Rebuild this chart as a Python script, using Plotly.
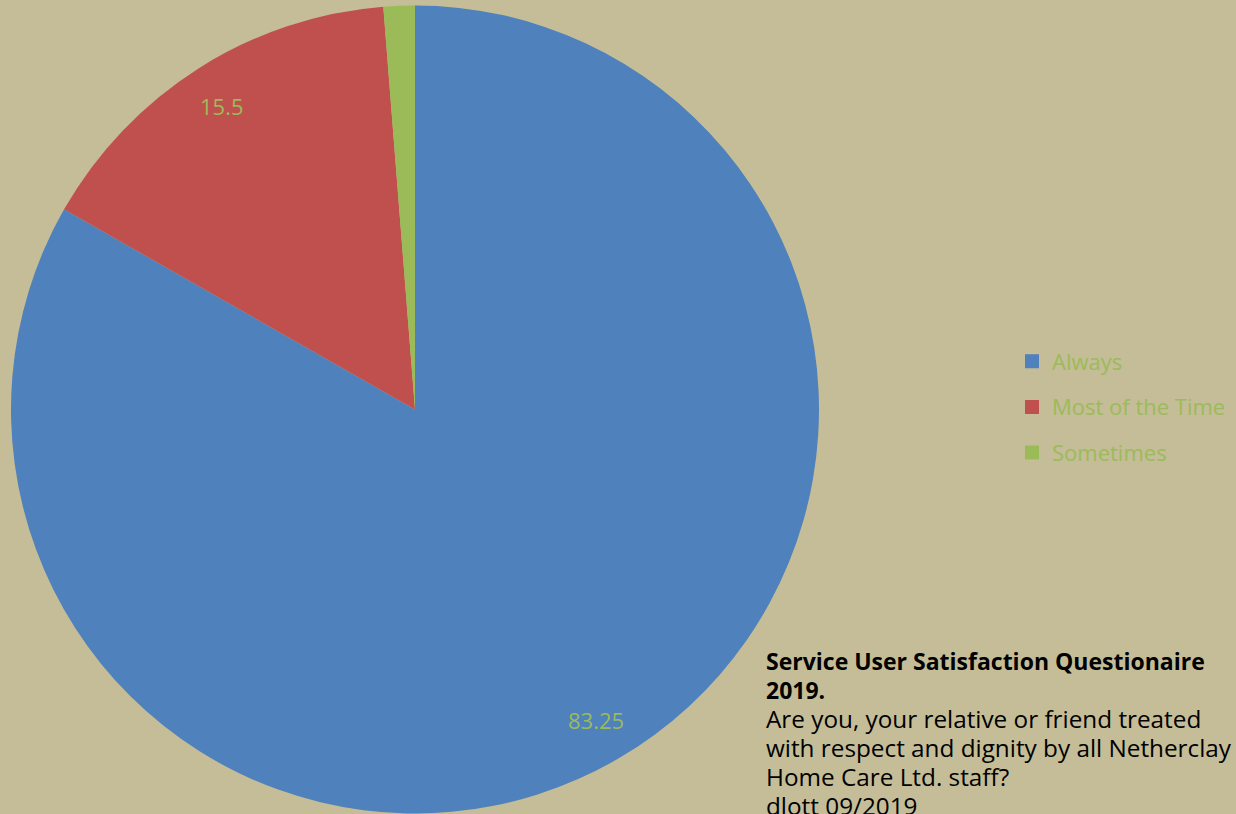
import math
import plotly.graph_objects as go

categories = ["Always", "Most of the Time", "Sometimes"]
values = [83.25, 15.5, 1.25]
colors = ["#4F81BD", "#C0504D", "#9BBB59"]
shown_labels = [True, True, False]
title_bold_lines = ["Service User Satisfaction Questionaire", "2019."]
title_lines = ["Are you, your relative or friend treated",
               "with respect and dignity by all Netherclay",
               "Home Care Ltd. staff?",
               "dlott 09/2019"]

W, H = 1236, 814
cx, cy, r = 415, 409.5, 404
FONT = "Open Sans"

fig = go.Figure()
fig.add_trace(go.Pie(
    labels=categories, values=values, sort=False, direction="clockwise",
    rotation=0, marker=dict(colors=colors, line=dict(width=0)),
    textinfo="none", hoverinfo="label+value", showlegend=False,
    domain=dict(x=[(cx - r) / W, (cx + r) / W], y=[1 - (cy + r) / H, 1 - (cy - r) / H]),
))

# data labels placed along each slice's mid-angle
total = sum(values)
cum = 0
for cat, v, show in zip(categories, values, shown_labels):
    mid = (cum + v / 2) / total * 2 * math.pi
    cum += v
    if not show:
        continue
    px = cx + 0.89 * r * math.sin(mid)
    py = cy - 0.89 * r * math.cos(mid)
    fig.add_annotation(x=px / W, y=1 - py / H, xref="paper", yref="paper",
                       xanchor="center", yanchor="middle",
                       text=f"{v:g}", showarrow=False,
                       font=dict(size=22, color="#9BBB59", family=FONT))

# legend entries
for i, (cat, col) in enumerate(zip(categories, colors)):
    fig.add_trace(go.Scatter(x=[None], y=[None], mode="markers", name=cat,
                             legendgroup=f"g{i}",
                             marker=dict(symbol="square", size=14, color=col)))

fig.update_xaxes(visible=False)
fig.update_yaxes(visible=False)

# text box, one annotation per line
y0, step = 661, 28.9
all_lines = [(t, True) for t in title_bold_lines] + [(t, False) for t in title_lines]
for i, (t, bold) in enumerate(all_lines):
    fig.add_annotation(
        x=764 / W, y=1 - (y0 + i * step) / H, xref="paper", yref="paper",
        xanchor="left", yanchor="middle", align="left", showarrow=False,
        text=f"<b>{t}</b>" if bold else t,
        font=dict(size=23 if bold else 24.3, color="#000000", family=FONT))

fig.update_layout(
    width=W, height=H, margin=dict(l=0, r=0, t=0, b=0),
    paper_bgcolor="#C4BD97", plot_bgcolor="#C4BD97",
    legend=dict(x=1012 / W, y=0.5, xanchor="left", yanchor="middle",
                tracegroupgap=14, bgcolor="rgba(0,0,0,0)",
                font=dict(size=22, color="#9BBB59", family=FONT)),
)

fig.write_html("out.html", config={"displayModeBar": False},
               post_script="document.body.style.margin='0';document.body.style.overflow='hidden';")
